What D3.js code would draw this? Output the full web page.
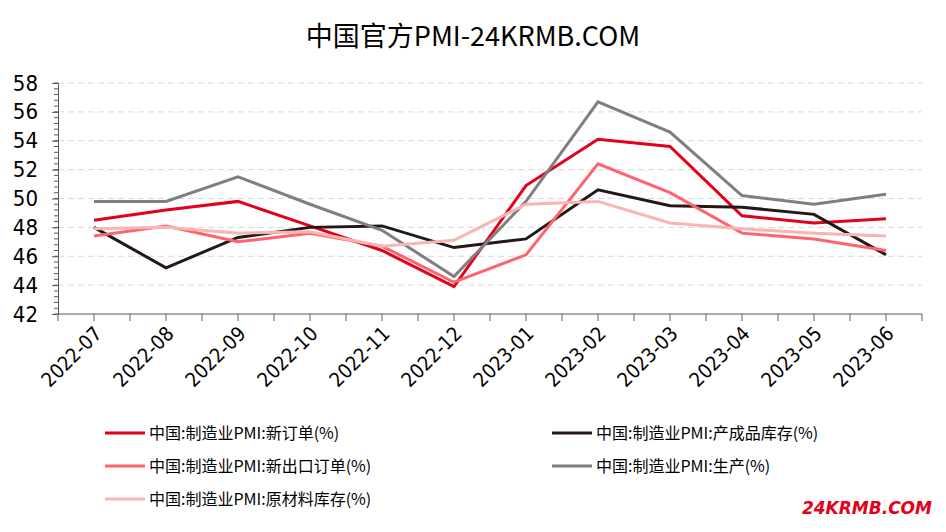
<!DOCTYPE html>
<html>
<head>
<meta charset="utf-8">
<script src="https://cdn.jsdelivr.net/npm/d3@7"></script>
<style>
  body { margin: 0; background: #fff; }
  text { font-family: "Noto Sans CJK SC", "Noto Sans", sans-serif; }
</style>
</head>
<body>
<div id="chart"></div>
<script>
// chart data
const months = ["2022-07", "2022-08", "2022-09", "2022-10", "2022-11", "2022-12",
                "2023-01", "2023-02", "2023-03", "2023-04", "2023-05", "2023-06"];
const newOrders    = [48.5, 49.2, 49.8, 48.1, 46.4, 43.9, 50.9, 54.1, 53.6, 48.8, 48.3, 48.6];
const finishedInv  = [48.0, 45.2, 47.3, 48.0, 48.1, 46.6, 47.2, 50.6, 49.5, 49.4, 48.9, 46.1];
const exportOrders = [47.4, 48.1, 47.0, 47.6, 46.7, 44.2, 46.1, 52.4, 50.4, 47.6, 47.2, 46.4];
const production   = [49.8, 49.8, 51.5, 49.6, 47.8, 44.6, 49.8, 56.7, 54.6, 50.2, 49.6, 50.3];
const rawInv       = [47.9, 48.0, 47.6, 47.7, 46.7, 47.1, 49.6, 49.8, 48.3, 47.9, 47.6, 47.4];
const yTicks = [42, 44, 46, 48, 50, 52, 54, 56, 58];

const seriesNames = ["中国:制造业PMI:新订单(%)", "中国:制造业PMI:产成品库存(%)",
                     "中国:制造业PMI:新出口订单(%)", "中国:制造业PMI:生产(%)",
                     "中国:制造业PMI:原材料库存(%)"];
const seriesValues = [newOrders, finishedInv, exportOrders, production, rawInv];
const seriesColors = ["#e2001a", "#231815", "#ff6371", "#7f7f7f", "#f8b5b1"];

const width = 946, height = 532;
const margin = {top: 83, right: 24, bottom: 218, left: 58};

const svg = d3.select("#chart")
  .append("svg")
  .attr("width", width)
  .attr("height", height);

// title
svg.append("text")
  .attr("x", 473).attr("y", 46)
  .attr("text-anchor", "middle")
  .attr("font-size", "27px")
  .attr("fill", "#000")
  .text("中国官方PMI-24KRMB.COM");

const xScale = d3.scalePoint()
  .domain(months)
  .range([margin.left, width - margin.right])
  .padding(0.5);

const yScale = d3.scaleLinear()
  .domain([42, 58])
  .range([height - margin.bottom, margin.top]);

// dashed gridlines
svg.append("g")
  .selectAll("line")
  .data(yTicks.slice(1))
  .enter()
  .append("line")
  .attr("x1", margin.left)
  .attr("x2", width - margin.right)
  .attr("y1", d => yScale(d))
  .attr("y2", d => yScale(d))
  .attr("stroke", "#d9d9d9")
  .attr("stroke-width", 1)
  .attr("stroke-dasharray", "6,4");

// minor y ticks
const minorTicks = d3.range(42, 58.01, 0.4);
svg.append("g")
  .selectAll("line")
  .data(minorTicks)
  .enter()
  .append("line")
  .attr("x1", margin.left - 4)
  .attr("x2", margin.left)
  .attr("y1", d => yScale(d))
  .attr("y2", d => yScale(d))
  .attr("stroke", "#595959");

// y axis
const yAxis = svg.append("g")
  .attr("transform", `translate(${margin.left},0)`)
  .call(d3.axisLeft(yScale).tickValues(yTicks).tickSize(6).tickPadding(14));
yAxis.select(".domain").attr("stroke", "#595959");
yAxis.selectAll(".tick line").attr("stroke", "#595959");
yAxis.selectAll("text")
  .attr("font-size", "22px")
  .attr("fill", "#000")
  .style("font-family", "'Liberation Sans Narrow', 'DejaVu Sans Condensed', sans-serif");

// x axis: ticks at each category and each boundary
const step = xScale.step();
const xTickPos = d3.range(0, months.length * 2 + 1).map(i => margin.left + i * step / 2);
const xAxisG = svg.append("g");
xAxisG.append("line")
  .attr("x1", margin.left).attr("x2", width - margin.right)
  .attr("y1", yScale(42)).attr("y2", yScale(42))
  .attr("stroke", "#595959");
xAxisG.selectAll(".xt")
  .data(xTickPos)
  .enter()
  .append("line")
  .attr("class", "xt")
  .attr("x1", d => d).attr("x2", d => d)
  .attr("y1", yScale(42)).attr("y2", yScale(42) + 7)
  .attr("stroke", "#595959");
xAxisG.selectAll(".xl")
  .data(months)
  .enter()
  .append("text")
  .attr("class", "xl")
  .attr("transform", d => `translate(${xScale(d) + 9},${yScale(42) + 21}) rotate(-45)`)
  .attr("text-anchor", "end")
  .attr("font-size", "20px")
  .attr("fill", "#000")
  .style("font-family", "'Liberation Sans Narrow', 'DejaVu Sans Condensed', sans-serif")
  .text(d => d);

// lines
const line = d3.line()
  .x((d, i) => xScale(months[i]))
  .y(d => yScale(d));

svg.append("g")
  .selectAll("path")
  .data(seriesValues)
  .enter()
  .append("path")
  .attr("d", d => line(d))
  .attr("fill", "none")
  .attr("stroke", (d, i) => seriesColors[i])
  .attr("stroke-width", 3)
  .attr("stroke-linejoin", "miter");

// legend
const legendPos = [[105, 433], [552, 433], [105, 466], [552, 466], [105, 499]];
const legend = svg.append("g")
  .selectAll("g")
  .data(seriesNames)
  .enter()
  .append("g")
  .attr("transform", (d, i) => `translate(${legendPos[i][0]},${legendPos[i][1]})`);
legend.append("line")
  .attr("x1", 0).attr("x2", 40)
  .attr("stroke", (d, i) => seriesColors[i])
  .attr("stroke-width", 3);
legend.append("text")
  .attr("x", 44).attr("y", 6)
  .attr("font-size", "16px")
  .attr("fill", "#000")
  .text(d => d);

// watermark
svg.append("text")
  .attr("x", 932).attr("y", 514)
  .attr("text-anchor", "end")
  .attr("font-size", "17px")
  .attr("font-weight", "bold")
  .attr("font-style", "italic")
  .attr("fill", "#e2001a")
  .style("font-family", "'DejaVu Sans', sans-serif")
  .text("24KRMB.COM");
</script>
</body>
</html>
